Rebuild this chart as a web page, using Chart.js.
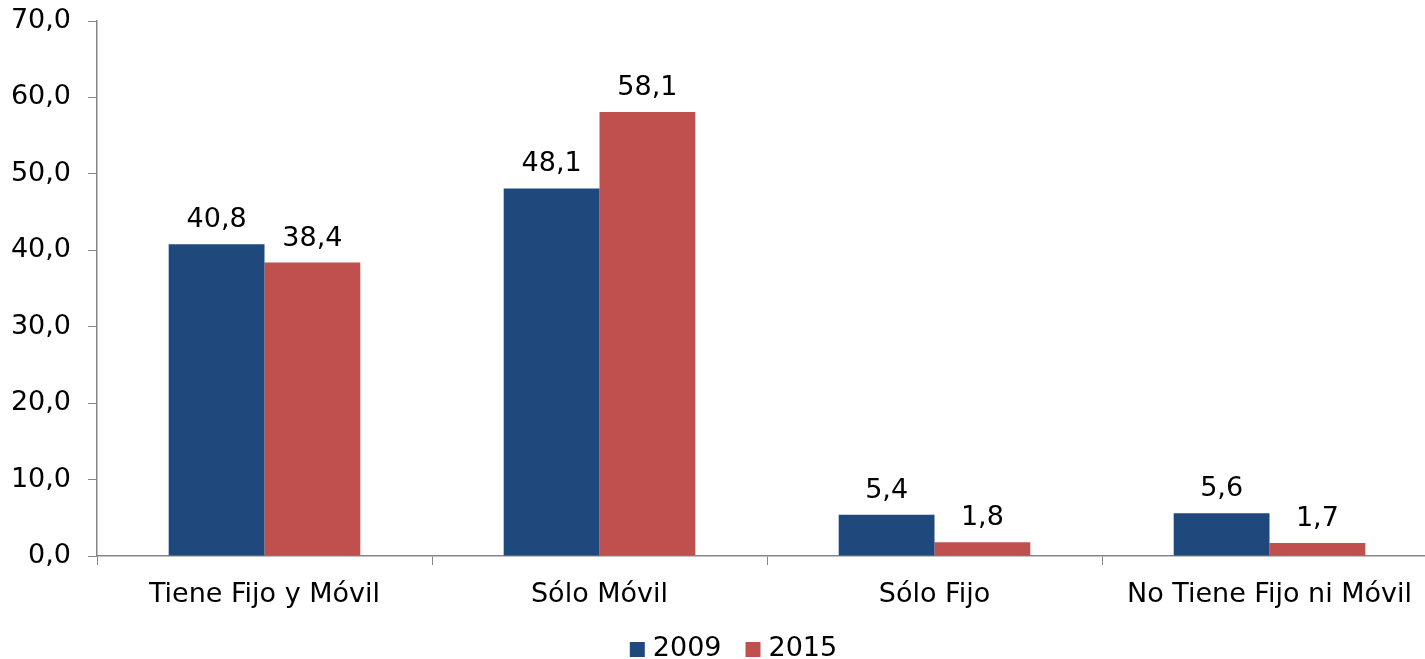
<!DOCTYPE html>
<html>
<head>
<meta charset="utf-8">
<script src="https://cdn.jsdelivr.net/npm/chart.js@4/dist/chart.umd.min.js"></script>
<style>
  html, body { margin: 0; padding: 0; background: #fff; overflow: hidden; }
  #wrap { position: relative; width: 1437px; height: 659px; }
</style>
</head>
<body>
<div id="wrap"><canvas id="c"></canvas></div>
<script>
const categories = ['Tiene Fijo y Móvil', 'Sólo Móvil', 'Sólo Fijo', 'No Tiene Fijo ni Móvil'];
const seriesNames = ['2009', '2015'];
const values2009 = [40.8, 48.1, 5.4, 5.6];
const values2015 = [38.4, 58.1, 1.8, 1.7];
const yTicks = [0, 10, 20, 30, 40, 50, 60, 70];

const FONT = 'DejaVu Sans, Verdana, sans-serif';
const FS = 27;
const fmt = v => v.toFixed(1).replace('.', ',');

const valueLabels = {
  id: 'valueLabels',
  afterDatasetsDraw(chart) {
    const ctx = chart.ctx;
    ctx.save();
    ctx.font = FS + 'px ' + FONT;
    ctx.fillStyle = '#000';
    ctx.textAlign = 'center';
    ctx.textBaseline = 'alphabetic';
    chart.data.datasets.forEach((ds, i) => {
      chart.getDatasetMeta(i).data.forEach((bar, j) => {
        ctx.fillText(fmt(ds.data[j]), bar.x, bar.y - 17);
      });
    });
    ctx.restore();
  }
};

const bottomLegend = {
  id: 'bottomLegend',
  afterDraw(chart) {
    const ctx = chart.ctx;
    ctx.save();
    ctx.font = FS + 'px ' + FONT;
    ctx.textBaseline = 'middle';
    ctx.textAlign = 'left';
    const box = 15, gap = 8, itemGap = 24;
    const items = chart.data.datasets.map(ds => ({ text: ds.label, color: ds.backgroundColor, w: ctx.measureText(ds.label).width }));
    let total = 0;
    items.forEach((it, i) => { total += box + gap + it.w + (i ? itemGap : 0); });
    let x = 733.5 - total / 2;
    const yBox = 642, yText = 649;
    items.forEach(it => {
      ctx.fillStyle = it.color;
      ctx.fillRect(x, yBox, box, box);
      ctx.fillStyle = '#000';
      ctx.fillText(it.text, x + box + gap, yText);
      x += box + gap + it.w + itemGap;
    });
    ctx.restore();
  }
};

new Chart(document.getElementById('c'), {
  type: 'bar',
  data: {
    labels: categories,
    datasets: [
      { label: seriesNames[0], data: values2009, backgroundColor: '#1F497D' },
      { label: seriesNames[1], data: values2015, backgroundColor: '#C0504D' }
    ]
  },
  options: {
    responsive: true,
    maintainAspectRatio: false,
    animation: false,
    layout: { padding: { top: 21, right: 0, bottom: 0, left: 0 } },
    datasets: { bar: { categoryPercentage: 0.572, barPercentage: 1.0 } },
    plugins: {
      tooltip: { enabled: false },
      legend: { display: false }
    },
    scales: {
      x: {
        grid: { display: true, drawOnChartArea: false, drawTicks: true, tickLength: 9, color: '#868686', offset: true },
        border: { color: '#868686', width: 1.5 },
        ticks: { font: { family: FONT, size: FS }, color: '#000', padding: 14, maxRotation: 0, autoSkip: false },
        afterFit(scale) { scale.height = 103; scale.paddingLeft = 0; scale.paddingRight = 0; }
      },
      y: {
        min: 0, max: 70,
        afterBuildTicks(scale) { scale.ticks = yTicks.map(v => ({ value: v })); },
        grid: { display: true, drawOnChartArea: false, drawTicks: true, tickLength: 9, color: '#868686' },
        border: { color: '#868686', width: 1.5 },
        ticks: { font: { family: FONT, size: FS }, color: '#000', padding: 17, callback: v => fmt(v) },
        afterFit(scale) { scale.width = 97; scale.paddingTop = 0; scale.paddingBottom = 0; }
      }
    }
  },
  plugins: [valueLabels, bottomLegend]
});
</script>
</body>
</html>
